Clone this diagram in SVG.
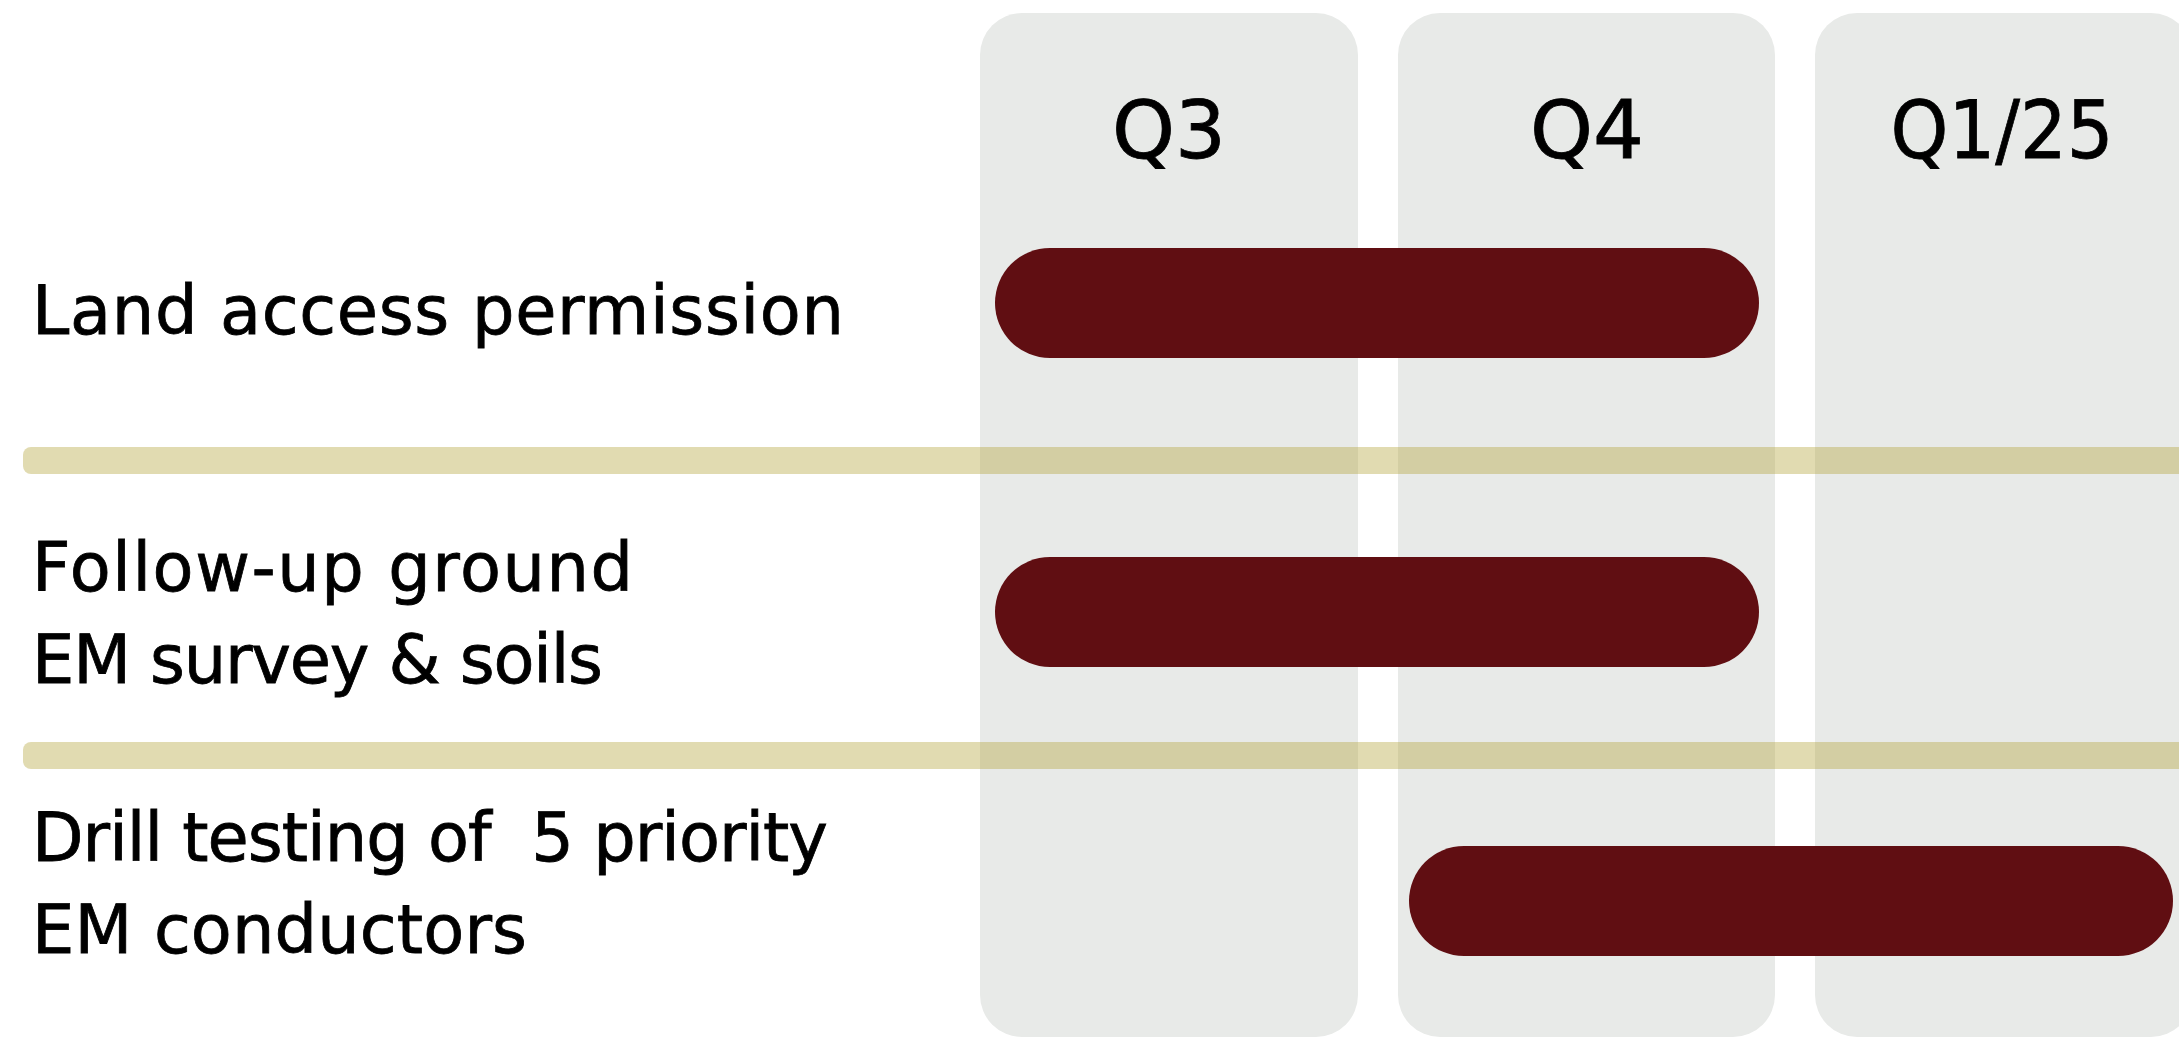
<svg xmlns="http://www.w3.org/2000/svg" width="2179" height="1038" viewBox="0 0 2179 1038">
<style>
.col{fill:#e8eae8}
.sep{fill:#b2a337;fill-opacity:0.39}
.bar{fill:#600e12}
.hdr{font-family:"DejaVu Sans",sans-serif;font-size:80px;fill:#000;stroke:#000;stroke-width:0.8px;text-anchor:middle}
.lbl{font-family:"DejaVu Sans",sans-serif;font-size:67px;fill:#000;stroke:#000;stroke-width:0.8px;white-space:pre}
</style>
<rect width="2179" height="1038" fill="#ffffff"/>
<g id="columns">
<g id="col-q3"><rect class="col" x="980" y="13" width="378" height="1024" rx="42"/><text class="hdr" x="1169" y="158">Q3</text></g>
<g id="col-q4"><rect class="col" x="1398" y="13" width="377" height="1024" rx="42"/><text class="hdr" x="1587" y="158">Q4</text></g>
<g id="col-q1"><rect class="col" x="1815" y="13" width="378" height="1024" rx="42"/><text class="hdr" x="2002" y="158" textLength="223" lengthAdjust="spacingAndGlyphs">Q1/25</text></g>
</g>
<g id="separators">
<rect class="sep" x="23" y="447" width="2180" height="27" rx="8"/>
<rect class="sep" x="23" y="742" width="2180" height="27" rx="8"/>
</g>
<g id="row-land">
<text class="lbl" x="32" y="334" textLength="812">Land access permission</text>
<rect class="bar" x="995" y="248" width="764" height="110" rx="55"/>
</g>
<g id="row-survey">
<text class="lbl" x="32" y="591" textLength="601">Follow-up ground</text>
<text class="lbl" x="32" y="683" textLength="571">EM survey &amp; soils</text>
<rect class="bar" x="995" y="557" width="764" height="110" rx="55"/>
</g>
<g id="row-drill">
<text class="lbl" x="32" y="861" textLength="796" xml:space="preserve">Drill testing of  5 priority</text>
<text class="lbl" x="32" y="953" textLength="495">EM conductors</text>
<rect class="bar" x="1409" y="846" width="764" height="110" rx="55"/>
</g>
<g id="connectors"></g>
</svg>
